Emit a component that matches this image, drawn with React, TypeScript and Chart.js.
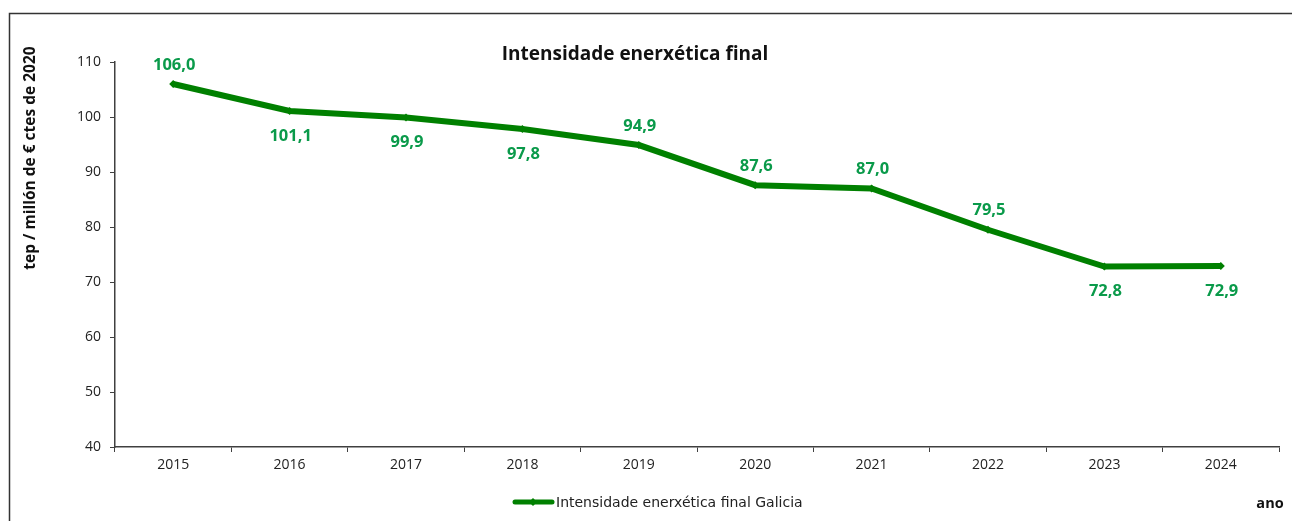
import React, { useEffect, useRef } from "react";
import { Chart, registerables } from "chart.js";

Chart.register(...registerables);

const years = ["2015", "2016", "2017", "2018", "2019", "2020", "2021", "2022", "2023", "2024"];
const intensity = [106.0, 101.1, 99.9, 97.8, 94.9, 87.6, 87.0, 79.5, 72.8, 72.9];
const labelSide = ["top", "bottom", "bottom", "bottom", "top", "top", "top", "top", "bottom", "bottom"];
const yTicks = [40, 50, 60, 70, 80, 90, 100, 110];

const TITLE = "Intensidade enerxética final";
const SERIES = "Intensidade enerxética final Galicia";
const Y_TITLE = "tep / millón de € ctes de 2020";
const X_TITLE = "ano";

const LINE_COLOR = "#008000";
const LABEL_COLOR = "#0A9A4A";
const AXIS_COLOR = "#404040";

const decorPlugin = {
  id: "decor",
  afterDraw(chart: any) {
    const ctx = chart.ctx;
    ctx.save();
    // outer frame
    ctx.strokeStyle = "#333";
    ctx.lineWidth = 1.5;
    ctx.beginPath();
    ctx.moveTo(9.5, 530);
    ctx.lineTo(9.5, 13.5);
    ctx.lineTo(1292, 13.5);
    ctx.stroke();

    // title
    ctx.fillStyle = "#111";
    ctx.font = "bold 19px 'Open Sans'";
    ctx.textAlign = "center";
    ctx.textBaseline = "middle";
    ctx.fillText(TITLE, 635, 55);

    // y title
    ctx.save();
    ctx.translate(31, 158);
    ctx.rotate(-Math.PI / 2);
    ctx.font = "bold 15.5px 'Open Sans'";
    ctx.fillText(Y_TITLE, 0, 0);
    ctx.restore();

    // x title
    ctx.font = "bold 14.5px 'Open Sans'";
    ctx.fillText(X_TITLE, 1270, 504);

    // data labels
    const meta = chart.getDatasetMeta(0);
    ctx.fillStyle = LABEL_COLOR;
    ctx.font = "bold 16.5px 'Open Sans'";
    meta.data.forEach((pt: any, i: number) => {
      const v = intensity[i].toFixed(1).replace(".", ",");
      const dy = labelSide[i] === "top" ? -19 : 25;
      ctx.fillText(v, pt.x + 1, pt.y + dy);
    });

    // legend
    const ly = 502;
    ctx.strokeStyle = LINE_COLOR;
    ctx.lineWidth = 5;
    ctx.lineCap = "round";
    ctx.beginPath();
    ctx.moveTo(515, ly);
    ctx.lineTo(552, ly);
    ctx.stroke();
    ctx.fillStyle = LINE_COLOR;
    ctx.beginPath();
    ctx.moveTo(533, ly - 4);
    ctx.lineTo(537, ly);
    ctx.lineTo(533, ly + 4);
    ctx.lineTo(529, ly);
    ctx.closePath();
    ctx.fill();
    ctx.fillStyle = "#222";
    ctx.font = "14px 'DejaVu Sans'";
    ctx.textAlign = "left";
    ctx.fillText(SERIES, 556, ly + 1);
    ctx.restore();
  },
};

export default function App() {
  const ref = useRef<HTMLCanvasElement>(null);
  useEffect(() => {
    if (!ref.current) return;
    const chart = new Chart(ref.current, {
      type: "line",
      data: {
        labels: years,
        datasets: [
          {
            label: SERIES,
            data: intensity,
            borderColor: LINE_COLOR,
            backgroundColor: LINE_COLOR,
            borderWidth: 6,
            pointStyle: "rectRot",
            pointRadius: 4,
            pointBorderWidth: 0,
            tension: 0,
          },
        ],
      },
      options: {
        animation: false,
        responsive: false,
        maintainAspectRatio: false,
        layout: { padding: { left: 0, right: 14, top: 62, bottom: 0 } },
        plugins: {
          legend: { display: false },
          title: { display: false },
          tooltip: { enabled: false },
        },
        scales: {
          x: {
            type: "category",
            offset: true,
            afterFit(scale: any) {
              scale.height = 74;
            },
            grid: {
              display: true,
              offset: true,
              drawOnChartArea: false,
              drawTicks: true,
              tickLength: 5,
              color: AXIS_COLOR,
            },
            border: { display: true, color: AXIS_COLOR, width: 1.5 },
            ticks: {
              color: "#222",
              font: { family: "'Open Sans'", size: 14 },
              padding: 5,
              maxRotation: 0,
            },
          },
          y: {
            min: 40,
            max: 110,
            afterFit(scale: any) {
              scale.width = 115;
            },
            afterBuildTicks(scale: any) {
              scale.ticks = yTicks.map((v) => ({ value: v }));
            },
            grid: {
              display: true,
              drawOnChartArea: false,
              drawTicks: true,
              tickLength: 5,
              color: AXIS_COLOR,
            },
            border: { display: true, color: AXIS_COLOR, width: 1.5 },
            ticks: {
              color: "#222",
              font: { family: "'Open Sans'", size: 14 },
              padding: 9,
            },
          },
        },
      },
      plugins: [decorPlugin],
    });
    return () => chart.destroy();
  }, []);
  return (
    <div style={{ position: "fixed", left: 0, top: 0, width: 1293, height: 521, background: "#fff" }}>
      <canvas ref={ref} width={1293} height={521} style={{ display: "block" }} />
    </div>
  );
}
